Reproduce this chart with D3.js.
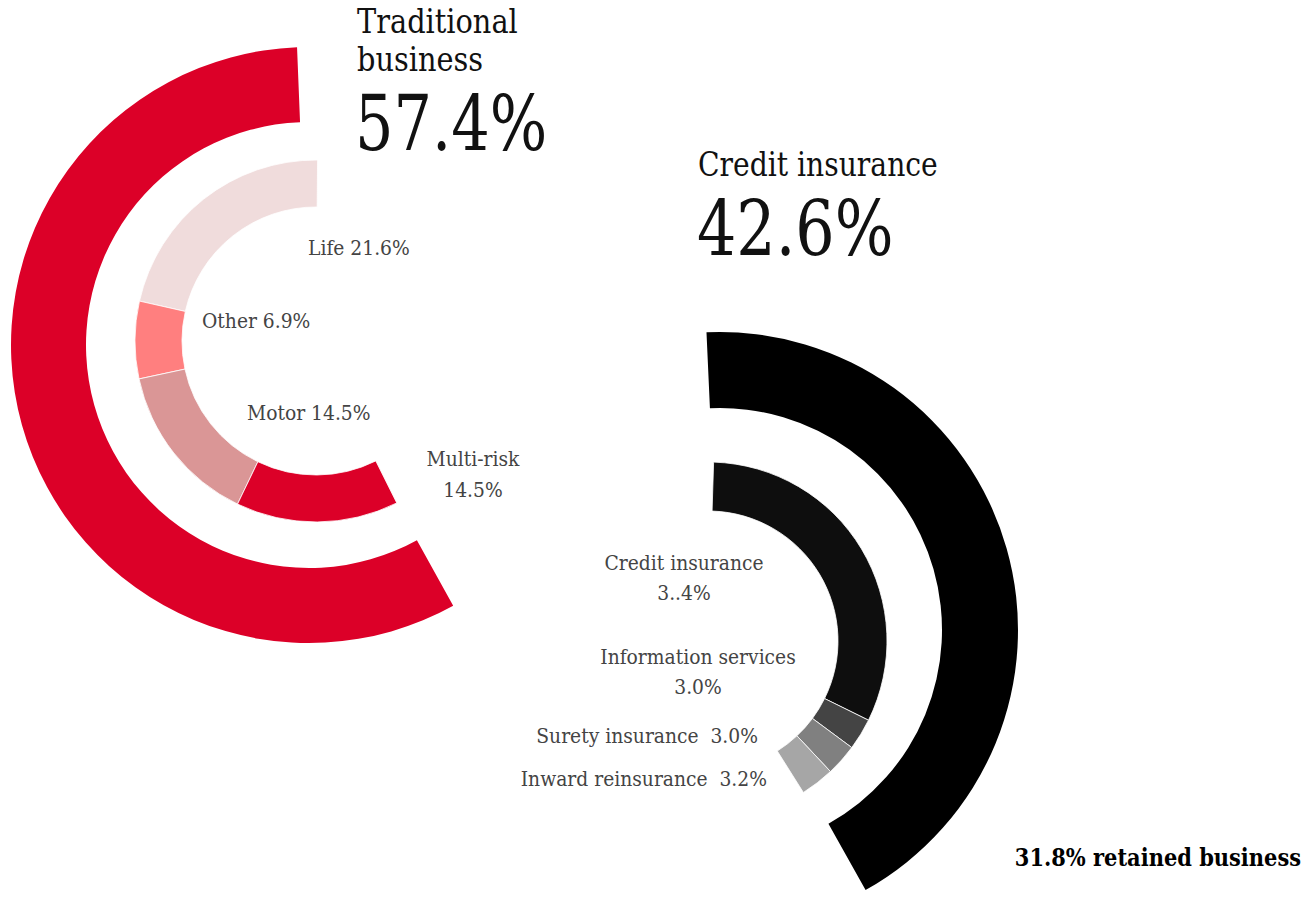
<!DOCTYPE html>
<html>
<head>
<meta charset="utf-8">
<script src="https://cdn.jsdelivr.net/npm/d3@7"></script>
<style>
  html, body { margin: 0; padding: 0; background: #fff; }
  svg { display: block; }
  text { font-family: "DejaVu Serif", serif; font-stretch: condensed; }
</style>
</head>
<body>
<svg id="chart" width="1308" height="897"></svg>
<script>
// ---- data ----
const groups = ["Traditional business", "Credit insurance"];
const groupShares = [57.4, 42.6];

const tradCategories = ["Life", "Other", "Motor", "Multi-risk"];
const tradValues = [21.6, 6.9, 14.5, 14.5];
const tradLabels = ["Life 21.6%", "Other 6.9%", "Motor 14.5%", "Multi-risk|14.5%"];

const creditCategories = ["Credit insurance", "Information services", "Surety insurance", "Inward reinsurance"];
const creditValues = [33.4, 3.0, 3.0, 3.2];
const creditLabels = ["Credit insurance|3..4%", "Information services|3.0%", "Surety insurance  3.0%", "Inward reinsurance  3.2%"];

const retainedLabel = "31.8% retained business";

// ---- drawing ----
const svg = d3.select("#chart");
const deg = Math.PI / 180;

// values are percentages; by default 100% = full circle
function drawRing(cx, cy, r0, r1, startDeg, dir, values, colors, spanDeg) {
  const total = d3.sum(values);
  const angle = spanDeg == null
    ? d3.scaleLinear().domain([0, 100]).range([0, 2 * Math.PI])
    : d3.scaleLinear().domain([0, total]).range([0, spanDeg * deg]);
  const start = startDeg * deg;
  const g = svg.append("g").attr("transform", `translate(${cx},${cy})`);
  const arc = d3.arc().innerRadius(r0).outerRadius(r1);
  let acc = 0;
  const segs = values.map((v, i) => {
    const a0 = start + dir * angle(acc);
    acc += v;
    const a1 = start + dir * angle(acc);
    return { startAngle: Math.min(a0, a1), endAngle: Math.max(a0, a1), color: colors[i] };
  });
  g.selectAll("path").data(segs).join("path")
    .attr("d", arc)
    .attr("fill", d => d.color)
    .attr("stroke", "#fff")
    .attr("stroke-width", values.length > 1 ? 0.8 : 0);
}

// Traditional business (red), counter-clockwise
drawRing(309, 345, 223, 298, -2.3, -1, [groupShares[0]], ["#dc0028"]);
drawRing(316, 341, 134, 181, 0.5, -1, tradValues, ["#f0dcdc", "#ff7f7f", "#da9696", "#dc0028"]);

// Credit insurance (black), clockwise
drawRing(720, 630, 222, 298, -2.6, 1, [groupShares[1]], ["#000000"]);
drawRing(708, 641, 130, 179, 1.8, 1, creditValues, ["#0e0e0e", "#444444", "#808080", "#a6a6a6"], 146);

// ---- text ----
function multiline(x, y, str, size, lh, color, anchor, weight, sx) {
  const t = svg.append("text")
    .attr("transform", `translate(${x},${y}) scale(${sx || 1},1)`)
    .attr("font-size", size)
    .attr("fill", color)
    .attr("text-anchor", anchor || "start")
    .attr("font-weight", weight || "normal")
    .style("white-space", "pre");
  str.split("|").forEach((s, i) => {
    t.append("tspan").attr("x", 0).attr("dy", i === 0 ? 0 : lh).text(s);
  });
  return t;
}

// Group headings
const tradWords = groups[0].split(" ");
multiline(357, 33, tradWords.join("|"), 33, 38, "#111", "start", "normal", 0.97);
multiline(355, 150, groupShares[0].toFixed(1) + "%", 76, 0, "#111", "start", "normal", 0.885);
multiline(698, 176, groups[1], 33, 0, "#111", "start", "normal", 0.95);
multiline(697, 255, groupShares[1].toFixed(1) + "%", 76, 0, "#111", "start", "normal", 0.905);

// Traditional sub-labels
const tradPos = [[308, 255, "start"], [202, 328, "start"], [247, 420, "start"], [473, 466, "middle"]];
tradLabels.forEach((l, i) => {
  const p = tradPos[i];
  multiline(p[0], p[1], l, 20.8, 31, "#444", p[2]);
});

// Credit sub-labels
const creditPos = [[684, 570, "middle"], [698, 664, "middle"], [758, 743, "end"], [767, 786, "end"]];
creditLabels.forEach((l, i) => {
  const p = creditPos[i];
  multiline(p[0], p[1], l, 20.8, 30, "#444", p[2]);
});

multiline(1301, 866, retainedLabel, 23.3, 0, "#000", "end", "bold");
</script>
</body>
</html>
